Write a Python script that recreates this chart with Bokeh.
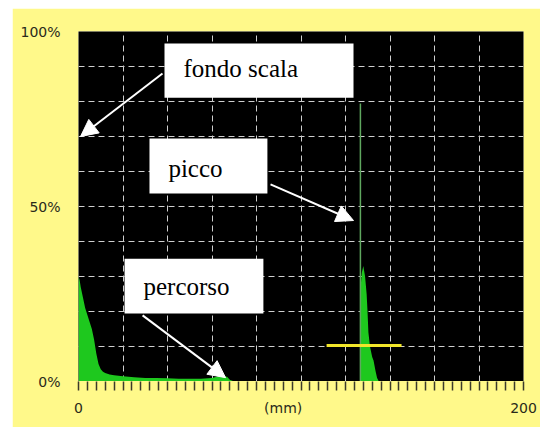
from bokeh.plotting import figure
from bokeh.models import (FixedTicker, BoxAnnotation, Label, Arrow, NormalHead)
from bokeh.embed import file_html
from bokeh.resources import INLINE

# ---- data ----
echo_x = [0, 0.5, 1, 2, 3, 4, 5, 6, 7, 8, 9, 10, 11, 12, 14, 16, 20, 25, 30,
          35, 40, 45, 50, 55, 60, 63, 65, 67, 68, 70]
echo_y = [30, 29, 27, 24, 21, 19, 17, 15, 12, 8, 5, 3.5, 2.8, 2.4, 2, 1.8, 1.5,
          1.2, 1, 1, 0.9, 0.8, 0.8, 0.8, 1, 1.5, 1.8, 1.2, 0.5, 0]

peak_x = [126.6, 126.7, 127.3, 128.0, 128.8, 129.5, 129.9, 130.3, 131.0, 132.0,
          132.6, 133.5, 134.2, 135.0]
peak_y = [0, 26, 31, 33, 30, 25, 20, 14, 10, 7, 6, 3, 1, 0]

peak_line_x = [126.7, 126.7]
peak_line_y = [0, 79.4]

gate_x = [111.5, 145.2]
gate_y = [10.3, 10.3]

x_ticks = list(range(0, 201, 4))
x_labelled = [0, 92, 200]
x_tick_labels = ["0", "(mm)", "200"]
y_ticks = [0, 50, 100]
y_tick_labels = ["0%", "50%", "100%"]

annotations = [
    # text, box (left, right, top, bottom), text pos, arrow (x0, y0, x1, y1)
    ("fondo scala", (38.65, 123.6, 96.6, 81.1), (47.2, 89.4), (37.75, 88.0, 0.9, 70.0)),
    ("picco", (31.9, 84.9, 69.4, 53.7), (40.4, 60.9), (86.3, 56.3, 123.6, 46.0)),
    ("percorso", (20.7, 83.1, 35.1, 19.4), (29.2, 27.1), (28.8, 18.9, 66.1, 1.1)),
]

YELLOW = "#fff98a"
AXIS_TEXT = "#2a2a1a"

p = figure(width=528, height=419, x_range=(0, 200), y_range=(0, 100),
           output_backend="svg", toolbar_location=None,
           min_border_left=66, min_border_right=17, min_border_top=23,
           min_border_bottom=46)
p.margin = (8, 0, 0, 12)
p.background_fill_color = "black"
p.border_fill_color = YELLOW
p.outline_line_color = None

# grid
p.xgrid.ticker = FixedTicker(ticks=list(range(0, 201, 20)))
p.ygrid.ticker = FixedTicker(ticks=list(range(0, 101, 10)))
for g in (p.xgrid, p.ygrid):
    g.grid_line_color = "#cfcfcf"
    g.grid_line_dash = "6 4"
    g.grid_line_width = 1

# x axis: small marks every 4 mm, only a few labelled
xa = p.xaxis[0]
xa.ticker = FixedTicker(ticks=x_ticks, minor_ticks=[])
overrides = {t: "" for t in x_ticks}
for t, l in zip(x_labelled, x_tick_labels):
    overrides[t] = l
xa.major_label_overrides = overrides
xa.axis_line_color = YELLOW
xa.axis_line_width = 1
xa.major_tick_line_color = "#3a3a2a"
xa.major_tick_line_width = 1.5
xa.major_tick_out = 9
xa.major_tick_in = 0
xa.minor_tick_line_color = None
xa.major_label_standoff = 9
xa.major_label_text_font = "DejaVu Sans"
xa.major_label_text_font_size = "14px"
xa.major_label_text_color = AXIS_TEXT

# y axis
ya = p.yaxis[0]
ya.ticker = FixedTicker(ticks=y_ticks)
ya.major_label_overrides = {t: l for t, l in zip(y_ticks, y_tick_labels)}
ya.axis_line_color = None
ya.major_tick_line_color = None
ya.minor_tick_line_color = None
ya.major_label_standoff = 12
ya.major_label_text_font = "DejaVu Sans"
ya.major_label_text_font_size = "14px"
ya.major_label_text_color = AXIS_TEXT

# signals
p.varea(x=echo_x, y1=[0] * len(echo_x), y2=echo_y, fill_color="#1ec81e")
p.varea(x=peak_x, y1=[0] * len(peak_x), y2=peak_y, fill_color="#1ec81e")
p.line(x=peak_line_x, y=peak_line_y, line_color="#5fa85f", line_width=1.5)
p.line(x=gate_x, y=gate_y, line_color="#f2e62a", line_width=3)

for text, (l, r, t, b), (tx, ty), (x0, y0, x1, y1) in annotations:
    p.add_layout(BoxAnnotation(left=l, right=r, top=t, bottom=b,
                               fill_color="white", fill_alpha=1.0,
                               line_color=None, level="overlay"))
    p.add_layout(Label(x=tx, y=ty, text=text, text_font="Liberation Serif",
                       text_font_size="25px", text_color="black",
                       text_baseline="middle", level="overlay"))
    p.add_layout(Arrow(x_start=x0, y_start=y0, x_end=x1, y_end=y1,
                       line_color="white", line_width=2,
                       end=NormalHead(size=17, fill_color="white",
                                      line_color="white"),
                       level="overlay"))

open("out.html", "w").write(file_html(p, INLINE))
